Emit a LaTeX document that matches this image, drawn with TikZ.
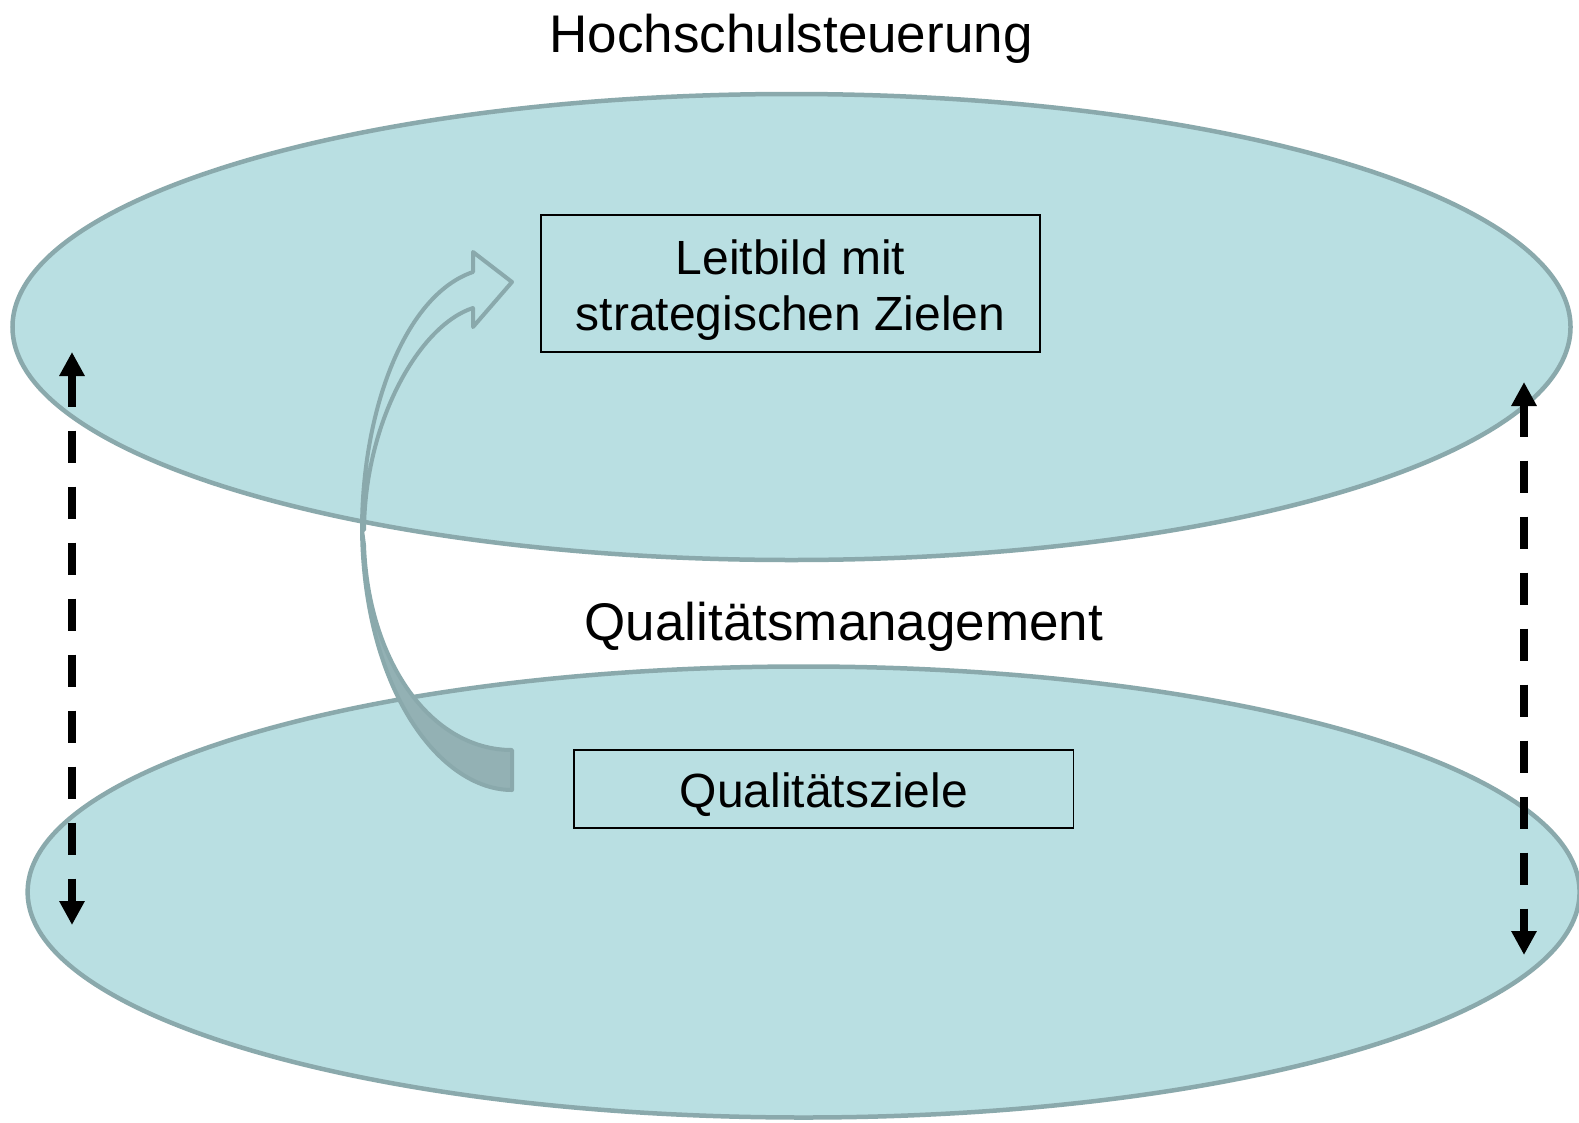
\documentclass[tikz,border=0pt]{standalone}
\usepackage{fontspec}
\setmainfont{Liberation Sans}
\usetikzlibrary{arrows.meta,shapes.geometric}
\definecolor{ellfill}{HTML}{B9DFE2}
\definecolor{ellline}{HTML}{8AA9AC}
\definecolor{arrdark}{HTML}{93B1B4}
\begin{document}
\begin{tikzpicture}[x=1pt,y=-1pt,
  layer/.style={ellipse, draw=ellline, fill=ellfill, line width=4.5pt, inner sep=0pt},
  box/.style={draw=black, line width=1.6pt, inner sep=0pt},
  big/.style={font=\fontsize{53}{60}\selectfont, inner sep=0pt},
  boxtext/.style={font=\fontsize{48}{56}\selectfont, inner sep=0pt},
  dasharrow/.style={line width=8pt, dash pattern=on 32pt off 24pt,
    {Triangle[width=24pt,length=24pt]}-{Triangle[width=24pt,length=24pt]}},
  bendarrow/.style={draw=ellline, line width=4pt, line join=round}]
\useasboundingbox (0,0) rectangle (1579,1122);
\fill[white] (0,0) rectangle (1579,1122);
% layers
\node[layer, minimum width=1558pt, minimum height=466pt] (hs) at (791.5,327) {};
\node[layer, minimum width=1552pt, minimum height=451pt] (qm) at (803.6,892) {};
% curved block arrow: front band (outline only)
\draw[bendarrow] (362,530) .. controls (362,410) and (405,295) .. (473,272)
  -- (473,252) -- (512,282) -- (473,327) -- (473,308)
  .. controls (420,325) and (365,420) .. (364,530) -- cycle;
% back band (dark)
\filldraw[bendarrow, fill=arrdark] (362,530) .. controls (364,690) and (440,790) .. (512,790)
  -- (512,750) .. controls (430,750) and (368,660) .. (364,545) -- cycle;
% titles
\node[big, anchor=base] (t1) at (791,52) {Hochschulsteuerung};
\node[big, anchor=base] (t2) at (844,640) {Qualitätsmanagement};
% boxes
\node[box, minimum width=499pt, minimum height=137pt] (leit) at (790.5,283.3) {};
\node[boxtext, anchor=base] (leit1) at (790.5,274) {Leitbild mit};
\node[boxtext, anchor=base] (leit2) at (790.5,330) {strategischen Zielen};
\node[box, minimum width=499.5pt, minimum height=77.6pt] (qz) at (823.8,789) {};
\node[boxtext, anchor=base] (qzt) at (823.8,807.5) {Qualitätsziele};
% dashed double arrows
\coordinate (la) at (72,352);
\coordinate (lb) at (72,925);
\coordinate (ra) at (1524,382);
\coordinate (rb) at (1524,955);
\draw[dasharrow] (la) -- (lb);
\draw[dasharrow] (ra) -- (rb);
\end{tikzpicture}
\end{document}
